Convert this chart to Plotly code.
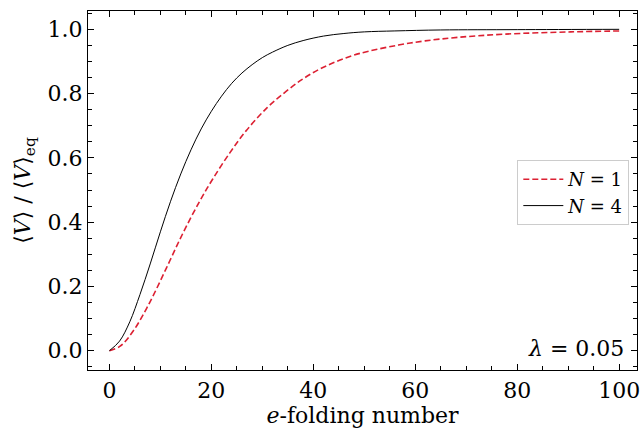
import plotly.graph_objects as go

# N = 4 (black solid)
x_n4 = [0, 2, 4, 6, 8, 10, 12, 14, 16, 18, 20, 22, 24, 26, 28, 30, 32, 35, 38, 42, 46, 50, 56, 65, 80, 100]
y_n4 = [0, 0.03, 0.09, 0.175, 0.27, 0.37, 0.465, 0.55, 0.625, 0.69, 0.745, 0.792, 0.832, 0.864, 0.89, 0.912, 0.929, 0.95, 0.965, 0.979, 0.987, 0.992, 0.995, 0.998, 0.999, 1.0]

# N = 1 (red dashed)
x_n1 = [0, 2.1, 4.7, 7.9, 11.2, 14.4, 17.7, 20.3, 23.55, 26.8, 31.0, 34.6, 37.9, 41.1, 44.4, 47.6, 50.9, 56.7, 61.9, 68.4, 77.5, 90.5, 100.0]
y_n1 = [0, 0.014, 0.062, 0.150, 0.258, 0.365, 0.465, 0.535, 0.614, 0.684, 0.757, 0.806, 0.845, 0.875, 0.899, 0.918, 0.932, 0.951, 0.964, 0.975, 0.985, 0.992, 0.995]

x_ticks = [0, 20, 40, 60, 80, 100]
y_ticks = [0.0, 0.2, 0.4, 0.6, 0.8, 1.0]
y_ticklabels = ["0.0", "0.2", "0.4", "0.6", "0.8", "1.0"]

FONT = "DejaVu Serif"
RED = "#dc2032"

fig = go.Figure()
fig.add_trace(go.Scatter(x=x_n1, y=y_n1, mode="lines", name="<i>N</i> = 1",
                         line=dict(color=RED, width=1.6, dash="6px,3px", shape="spline", smoothing=1.0)))
fig.add_trace(go.Scatter(x=x_n4, y=y_n4, mode="lines", name="<i>N</i> = 4",
                         line=dict(color="black", width=1.0, shape="spline", smoothing=1.0)))

axis_common = dict(
    showline=True, linecolor="black", linewidth=1.3, mirror="allticks",
    ticks="inside", ticklen=6, tickwidth=1, tickcolor="black",
    showgrid=False, zeroline=False, ticklabeloverflow="allow",
    tickfont=dict(family=FONT, size=22, color="black"),
)

fig.update_layout(
    width=642, height=431,
    margin=dict(l=88, r=2, t=11, b=61),
    paper_bgcolor="white", plot_bgcolor="white",
    font=dict(family=FONT, color="black"),
    xaxis=dict(range=[-4.2, 103.5], tickvals=x_ticks,
               minor=dict(dtick=5, ticklen=3.5, ticks="inside", tickcolor="black", tickwidth=1),
               title=dict(text="<i>e</i>-folding number", font=dict(family=FONT, size=22), standoff=6),
               **axis_common),
    yaxis=dict(range=[-0.06, 1.057], tickvals=y_ticks, ticktext=y_ticklabels,
               minor=dict(dtick=0.05, ticklen=3.5, ticks="inside", tickcolor="black", tickwidth=1),
               title=dict(text="⟨<i>V</i>⟩ / ⟨<i>V</i>⟩<sub>eq</sub>", font=dict(family=FONT, size=22), standoff=10),
               **axis_common),
    legend=dict(x=0.986, y=0.585, xanchor="right", yanchor="top",
                bgcolor="white", bordercolor="#cccccc", borderwidth=1,
                font=dict(family=FONT, size=18, color="black"),
                tracegroupgap=0, itemwidth=40),
    showlegend=True,
    annotations=[dict(text="<i>λ</i> = 0.05", xref="paper", yref="paper",
                      x=0.98, y=0.06, xanchor="right", yanchor="middle",
                      showarrow=False, font=dict(family=FONT, size=22, color="black"))],
)

fig.write_html("out.html", config={"displayModeBar": False},
               post_script="document.body.style.margin='0';document.body.style.overflow='hidden';")
